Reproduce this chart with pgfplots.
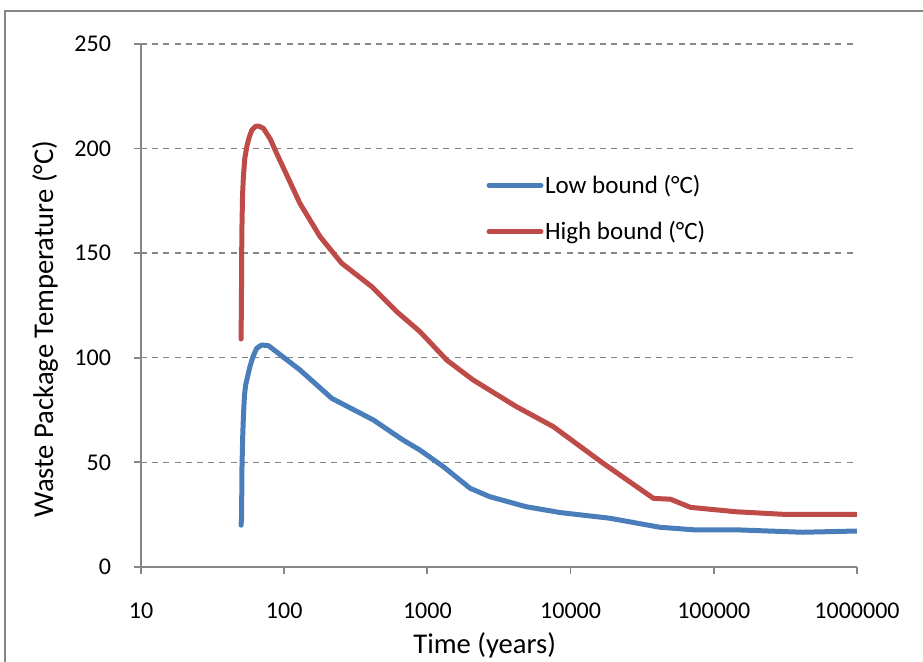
\documentclass[border=0pt]{standalone}
\usepackage{fontspec}
\setmainfont{Carlito}
\usepackage{pgfplots}
\pgfplotsset{compat=1.18}
\definecolor{lowblue}{RGB}{74,126,187}
\definecolor{highred}{RGB}{190,75,72}
\definecolor{axgray}{RGB}{134,134,134}
\definecolor{gridgray}{RGB}{134,134,134}
\begin{document}
\begin{tikzpicture}
\useasboundingbox (-70.5pt,-47.5pt) rectangle (391pt,283.5pt);
\draw[axgray, line width=0.9pt] (-68pt,-48pt) -- (-68pt,278pt) -- (392pt,278pt);
\begin{axis}[
  scale only axis,
  width=358pt, height=261.5pt,
  xmode=log,
  xmin=10, xmax=1000000,
  ymin=0, ymax=250,
  xtick={10,100,1000,10000,100000,1000000},
  xticklabels={10,100,1000,10000,100000,1000000},
  ytick={0,50,100,150,200,250},
  minor xtick={},
  xminorticks=false,
  axis x line*=bottom,
  axis y line*=left,
  axis line style={axgray, line width=0.9pt},
  tick style={axgray, line width=0.9pt},
  xtick align=outside, ytick align=outside,
  major tick length=3.5pt,
  ymajorgrids,
  major grid style={gridgray, line width=0.7pt, dash pattern=on 3pt off 2.6pt},
  /pgf/number format/assume math mode=true,
  tick label style={font=\fontsize{12}{14}\selectfont, text=black},
  xticklabel style={yshift=-11pt},
  yticklabel style={xshift=-8pt},
  xlabel={Time (years)},
  ylabel={Waste Package Temperature (°C)},
  label style={font=\fontsize{14.3}{16}\selectfont},
  xlabel style={at={(axis description cs:0.480,-0.149)}, anchor=center},
  ylabel style={at={(axis description cs:-0.134,0.455)}, anchor=center},
  legend style={draw=none, fill=none, font=\fontsize{12.5}{14}\selectfont,
    at={(rel axis cs:0.4820,0.6853)}, anchor=west, inner sep=0pt, row sep=12.5pt,
    nodes={inner xsep=0.8pt, inner ysep=0pt}},
  legend cell align=left,
  legend image code/.code={\draw[#1, line cap=round] (0pt,0pt) -- (26pt,0pt);},
]
\addplot[lowblue, line width=2.5pt, line join=round, line cap=round] coordinates {
(50,20) (50.4,24) (50.7,47) (51.3,62) (51.9,72) (52.8,82) (53.8,87)
(57.6,95.7) (60.5,100.5) (64.2,104.5) (69.4,106.1) (77.6,105.8)
(128.8,94.2) (215,80.6) (419,70.3) (675,60.7) (887,55.9)
(1295,47.9) (1990,37.6) (2730,33.6) (4900,28.8) (8500,26.0)
(18800,23.3) (41900,19.0) (74800,17.7) (152000,17.7) (417000,16.6) (1000000,17.2)
};
\addlegendentry{Low bound (°C)}
\addplot[highred, line width=2.5pt, line join=round, line cap=round] coordinates {
(50,109) (50.3,130) (50.6,159.5) (51.2,178) (51.9,186.6) (53,195) (54.8,200.9)
(57,205.5) (59.5,208.9) (63,210.6) (66,210.8) (71.6,209.7) (80,204.5) (88.6,197.7)
(128.8,173.8) (178,157.9) (252,145.2) (409,134) (612,122) (887,112.5)
(1365,98.9) (2087,89.4) (4196,76.6) (7569,67.1) (16860,49.6) (37920,32.8)
(49800,32.4) (68800,28.5) (143000,26.4) (302000,25.2) (1000000,25.2)
};
\addlegendentry{High bound (°C)}
\end{axis}
\end{tikzpicture}
\end{document}
